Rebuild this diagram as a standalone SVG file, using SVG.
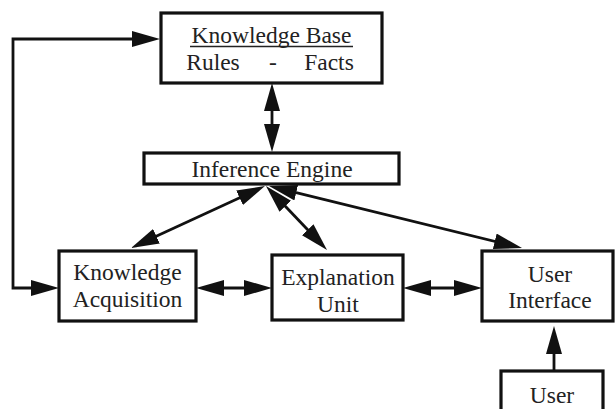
<svg xmlns="http://www.w3.org/2000/svg" width="616" height="409" viewBox="0 0 616 409">
<style>
.box{fill:#fff;stroke:#111;stroke-width:3.2}
.t{font-family:"Liberation Serif","Times New Roman",serif;font-size:23.5px;fill:#222;text-anchor:middle}
.c{fill:none;stroke:#111;stroke-width:2.8}
</style>
<defs>
<marker id="ah" markerUnits="userSpaceOnUse" markerWidth="28" markerHeight="16" refX="20" refY="8" orient="auto-start-reverse">
<path d="M0,0 L28,8 L0,16 z" fill="#111"/>
</marker>
</defs>
<rect width="616" height="409" fill="#fff"/>
<g id="connectors">
<path class="c" d="M152,39 H13 V288 H51" marker-start="url(#ah)" marker-end="url(#ah)"/>
<path class="c" d="M272,91 V144" marker-start="url(#ah)" marker-end="url(#ah)"/>
<path class="c" d="M257.7,189.4 L138.3,244.6" marker-start="url(#ah)" marker-end="url(#ah)"/>
<path class="c" d="M271.5,191.8 L321.5,244.2" marker-start="url(#ah)" marker-end="url(#ah)"/>
<path class="c" d="M276.8,187.9 L514.2,246.1" marker-start="url(#ah)" marker-end="url(#ah)"/>
<path class="c" d="M204,288 H264" marker-start="url(#ah)" marker-end="url(#ah)"/>
<path class="c" d="M411,288 H474" marker-start="url(#ah)" marker-end="url(#ah)"/>
<path class="c" d="M554,371 V334" marker-end="url(#ah)"/>
</g>
<g id="knowledge-base">
<rect class="box" x="161" y="13" width="221" height="70"/>
<text class="t" x="271.5" y="43">Knowledge Base</text>
<line x1="190" y1="46.5" x2="353" y2="46.5" stroke="#222" stroke-width="1.5"/>
<text class="t" y="70"><tspan x="213">Rules</tspan><tspan x="273">-</tspan><tspan x="329">Facts</tspan></text>
</g>
<g id="inference-engine">
<rect class="box" x="144" y="153" width="255" height="31"/>
<text class="t" x="272" y="177">Inference Engine</text>
</g>
<g id="knowledge-acquisition">
<rect class="box" x="59" y="251" width="137" height="70"/>
<text class="t" x="127.5" y="280">Knowledge</text>
<text class="t" x="127.5" y="307">Acquisition</text>
</g>
<g id="explanation-unit">
<rect class="box" x="272" y="255" width="131" height="65"/>
<text class="t" x="338" y="285">Explanation</text>
<text class="t" x="338" y="312">Unit</text>
</g>
<g id="user-interface">
<rect class="box" x="482" y="251" width="131" height="70"/>
<text class="t" x="550" y="282">User</text>
<text class="t" x="550" y="308">Interface</text>
</g>
<g id="user">
<rect class="box" x="501" y="371" width="102" height="50"/>
<text class="t" x="552" y="403">User</text>
</g>
</svg>
